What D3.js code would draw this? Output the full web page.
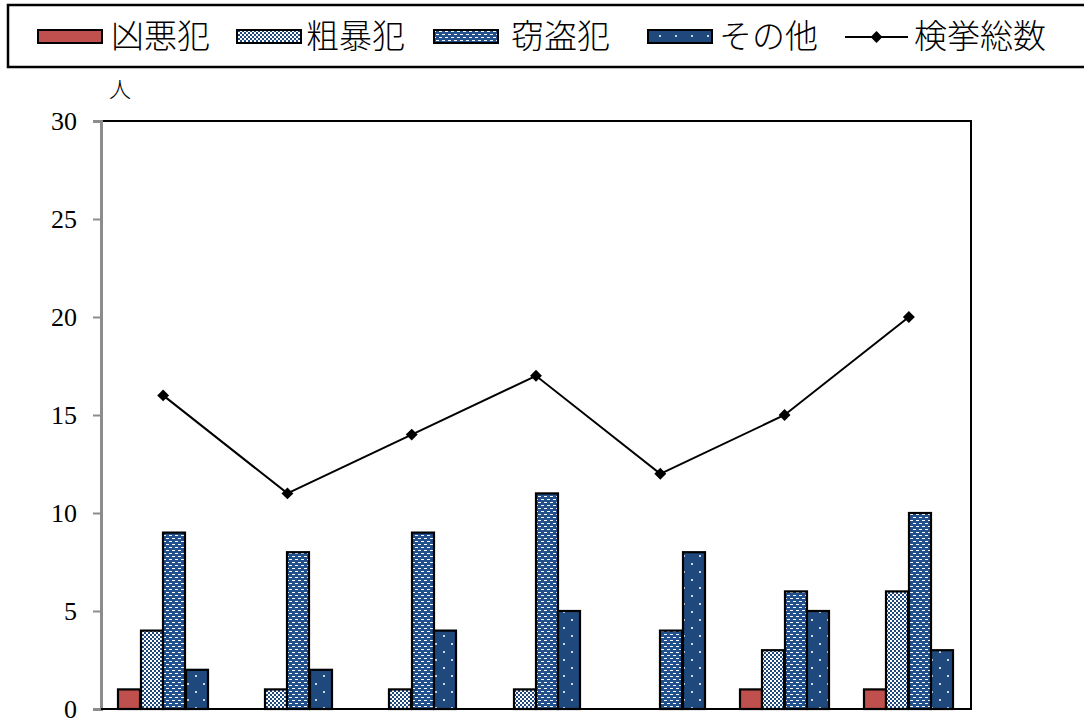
<!DOCTYPE html>
<html>
<head>
<meta charset="utf-8">
<script src="https://cdn.jsdelivr.net/npm/d3@7"></script>
<style>
  html, body { margin: 0; padding: 0; background: #fff; }
  svg { display: block; }
</style>
</head>
<body>
<svg id="chart" width="1084" height="722"></svg>
<script>
// Arrests by offence type for seven periods, plus the total count
const groups = ["1", "2", "3", "4", "5", "6", "7"];
const seriesNames = ["凶悪犯", "粗暴犯", "窃盗犯", "その他"];
const violent = [1, 0, 0, 0, 0, 1, 1];
const rough = [4, 1, 1, 1, 0, 3, 6];
const theft = [9, 8, 9, 11, 4, 6, 10];
const other = [2, 2, 4, 5, 8, 5, 3];
const totals = [16, 11, 14, 17, 12, 15, 20];
const totalName = "検挙総数";
const yTicks = [0, 5, 10, 15, 20, 25, 30];
const unitLabel = "人";

const seriesValues = [violent, rough, theft, other];

const svg = d3.select("#chart");
const plot = { left: 101, right: 971, top: 121, bottom: 709 };

const jpFont = "'Liberation Serif', 'Noto Sans CJK JP', serif";
const navy = "#1f497d";

// Fill patterns
const defs = svg.append("defs");

const checker = defs.append("pattern").attr("id", "pat-checker")
  .attr("patternUnits", "userSpaceOnUse").attr("width", 4).attr("height", 4);
checker.append("rect").attr("width", 4).attr("height", 4).attr("fill", "#ffffff");
checker.append("rect").attr("x", 0).attr("y", 0).attr("width", 2).attr("height", 2).attr("fill", navy);
checker.append("rect").attr("x", 2).attr("y", 2).attr("width", 2).attr("height", 2).attr("fill", navy);

const dashes = defs.append("pattern").attr("id", "pat-dash")
  .attr("patternUnits", "userSpaceOnUse").attr("width", 6).attr("height", 6);
dashes.append("rect").attr("width", 6).attr("height", 6).attr("fill", "#21508c");
dashes.append("rect").attr("x", 1).attr("y", 1).attr("width", 3).attr("height", 1).attr("fill", "#ffffff");
dashes.append("rect").attr("x", 4).attr("y", 4).attr("width", 2).attr("height", 1).attr("fill", "#ffffff");
dashes.append("rect").attr("x", 0).attr("y", 4).attr("width", 1).attr("height", 1).attr("fill", "#ffffff");

const dots = defs.append("pattern").attr("id", "pat-dots")
  .attr("patternUnits", "userSpaceOnUse").attr("width", 16).attr("height", 16);
dots.append("rect").attr("width", 16).attr("height", 16).attr("fill", navy);
dots.append("rect").attr("x", 3).attr("y", 3).attr("width", 2).attr("height", 2).attr("fill", "#c9d6e8");
dots.append("rect").attr("x", 11).attr("y", 11).attr("width", 2).attr("height", 2).attr("fill", "#c9d6e8");

const fills = ["#c0504d", "url(#pat-checker)", "url(#pat-dash)", "url(#pat-dots)"];

// Scales
const x0 = d3.scaleBand().domain(groups).range([plot.left, plot.right]).padding(0);
const bw = x0.bandwidth();
const x1 = d3.scaleBand().domain(seriesNames)
  .range([bw * 0.138, bw * 0.862]).padding(0);
const y = d3.scaleLinear().domain([0, 30]).range([plot.bottom, plot.top]);

// Plot frame (top, right, bottom)
svg.append("path")
  .attr("d", `M${plot.left},${plot.top}H${plot.right}V${plot.bottom}H${plot.left}`)
  .attr("fill", "none").attr("stroke", "#000").attr("stroke-width", 2);

// Bars
const barData = [];
groups.forEach((g, gi) => {
  seriesNames.forEach((s, si) => {
    barData.push({ g, s, si, v: seriesValues[si][gi] });
  });
});
svg.append("g").selectAll("rect")
  .data(barData.filter(d => d.v > 0))
  .join("rect")
  .attr("x", d => Math.round(x0(d.g) + x1(d.s)))
  .attr("y", d => y(d.v))
  .attr("width", Math.round(x1.bandwidth()))
  .attr("height", d => y(0) - y(d.v))
  .attr("fill", d => fills[d.si])
  .attr("stroke", "#000")
  .attr("stroke-width", 2.2);

// Y axis
const yAxis = d3.axisLeft(y).tickValues(yTicks).tickSize(8).tickPadding(16)
  .tickFormat(d3.format("d"));
const yg = svg.append("g").attr("transform", `translate(${plot.left},0)`).call(yAxis);
yg.select(".domain").attr("stroke", "#8c8c8c").attr("stroke-width", 3);
yg.selectAll(".tick line").attr("stroke", "#8c8c8c").attr("stroke-width", 2);
yg.selectAll(".tick text")
  .attr("font-family", "'Liberation Serif', serif")
  .attr("font-size", 26).attr("fill", "#000");

// Bottom baseline
svg.append("line")
  .attr("x1", plot.left).attr("x2", plot.right)
  .attr("y1", y(0)).attr("y2", y(0))
  .attr("stroke", "#000").attr("stroke-width", 2);

// Unit label
svg.append("text").attr("x", 120).attr("y", 89)
  .attr("text-anchor", "middle").attr("dominant-baseline", "central")
  .attr("font-family", jpFont).attr("font-weight", 300)
  .attr("font-size", 22).text(unitLabel);

// Total line with diamond markers
const cx = (g) => x0(g) + bw / 2;
const line = d3.line().x((d, i) => cx(groups[i])).y(d => y(d));
svg.append("path").datum(totals)
  .attr("d", line).attr("fill", "none")
  .attr("stroke", "#000").attr("stroke-width", 2);
svg.append("g").selectAll("path")
  .data(totals).join("path")
  .attr("d", d3.symbol(d3.symbolDiamond2, 90))
  .attr("transform", (d, i) => `translate(${cx(groups[i])},${y(d)})`)
  .attr("fill", "#000");

// Legend
svg.append("rect").attr("x", 8).attr("y", 5).attr("width", 1090).attr("height", 62)
  .attr("fill", "#fff").attr("stroke", "#000").attr("stroke-width", 2.5);

const legendY = 37;
const swatchX = [38, 237, 434, 648];
const textX = [111, 306, 511, 719];
seriesNames.forEach((s, i) => {
  svg.append("rect")
    .attr("x", swatchX[i]).attr("y", 30).attr("width", 64).attr("height", 13)
    .attr("fill", fills[i]).attr("stroke", "#000").attr("stroke-width", 2);
  svg.append("text").attr("x", textX[i]).attr("y", legendY)
    .attr("dominant-baseline", "central")
    .attr("font-family", jpFont).attr("font-weight", 300)
    .attr("font-size", 33).text(s);
});
svg.append("line").attr("x1", 845).attr("x2", 908)
  .attr("y1", legendY).attr("y2", legendY)
  .attr("stroke", "#000").attr("stroke-width", 2);
svg.append("path")
  .attr("d", d3.symbol(d3.symbolDiamond2, 90))
  .attr("transform", `translate(876.5,${legendY})`)
  .attr("fill", "#000");
svg.append("text").attr("x", 914).attr("y", legendY)
  .attr("dominant-baseline", "central")
  .attr("font-family", jpFont).attr("font-weight", 300)
  .attr("font-size", 33).text(totalName);
</script>
</body>
</html>
